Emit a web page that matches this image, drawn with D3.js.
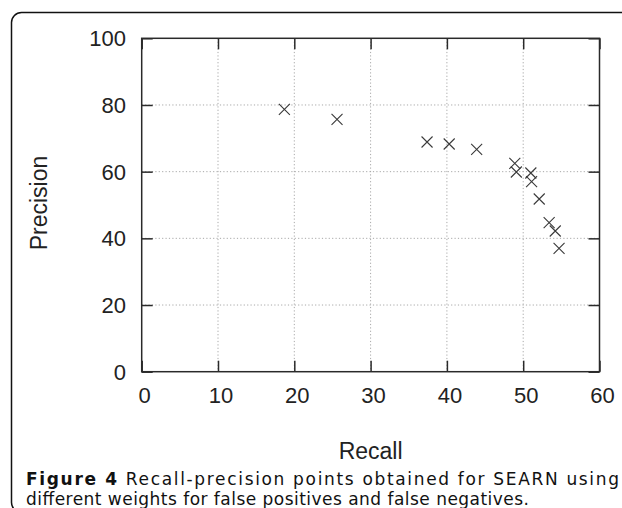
<!DOCTYPE html>
<html>
<head>
<meta charset="utf-8">
<script src="https://cdn.jsdelivr.net/npm/d3@7"></script>
<style>
  html, body { margin: 0; padding: 0; background: #fff; }
  svg { display: block; }
</style>
</head>
<body>
<svg id="chart" width="622" height="508"></svg>
<script>
// Data
const recall    = [18.7, 25.6, 37.4, 40.3, 43.9, 48.9, 49.1, 51.0, 51.1, 52.1, 53.4, 54.2, 54.7];
const precision = [78.7, 75.7, 68.9, 68.3, 66.7, 62.5, 59.9, 59.6, 57.0, 51.8, 44.7, 42.2, 37.0];
const xTicks = [0, 10, 20, 30, 40, 50, 60];
const yTicks = [0, 20, 40, 60, 80, 100];
const xTitle = "Recall";
const yTitle = "Precision";
const captionBold = "Figure 4";
const captionLine1 = " Recall-precision points obtained for SEARN using";
const captionLine2 = "different weights for false positives and false negatives.";

const svg = d3.select("#chart");

// outer frame with rounded corner
svg.append("rect")
  .attr("x", 11.5).attr("y", 12.5)
  .attr("width", 700).attr("height", 500)
  .attr("rx", 10).attr("ry", 10)
  .attr("fill", "none").attr("stroke", "#111").attr("stroke-width", 1.5);

const pL = 141.7, pR = 599.5, pT = 38.3, pB = 371.7;
const x = d3.scaleLinear().domain([0, 60]).range([pL, pR]);
const y = d3.scaleLinear().domain([0, 100]).range([pB, pT]);

const g = svg.append("g");

// grid
g.append("g").selectAll("line").data(xTicks.filter(d => d > 0 && d < 60)).join("line")
  .attr("x1", d => x(d)).attr("x2", d => x(d))
  .attr("y1", pT).attr("y2", pB)
  .attr("stroke", "#a8a8a8").attr("stroke-width", 1)
  .attr("stroke-dasharray", "1.2,2.2");
g.append("g").selectAll("line").data(yTicks.filter(d => d > 0 && d < 100)).join("line")
  .attr("y1", d => y(d)).attr("y2", d => y(d))
  .attr("x1", pL).attr("x2", pR)
  .attr("stroke", "#a8a8a8").attr("stroke-width", 1)
  .attr("stroke-dasharray", "1.2,2.2");

// axes via d3 (inward ticks)
const tickLen = 11;
const axisColor = "#2a2a2a";
function styleAxis(sel) {
  sel.select(".domain").remove();
  sel.selectAll(".tick line").attr("stroke", axisColor).attr("stroke-width", 1.5);
}
g.append("g").attr("transform", `translate(0,${pB})`)
  .call(d3.axisBottom(x).tickValues(xTicks).tickSize(-tickLen).tickFormat(""))
  .call(styleAxis);
g.append("g").attr("transform", `translate(0,${pT})`)
  .call(d3.axisTop(x).tickValues(xTicks).tickSize(-tickLen).tickFormat(""))
  .call(styleAxis);
g.append("g").attr("transform", `translate(${pL},0)`)
  .call(d3.axisLeft(y).tickValues(yTicks).tickSize(-tickLen).tickFormat(""))
  .call(styleAxis);
g.append("g").attr("transform", `translate(${pR},0)`)
  .call(d3.axisRight(y).tickValues(yTicks).tickSize(-tickLen).tickFormat(""))
  .call(styleAxis);

// plot border
g.append("rect")
  .attr("x", pL).attr("y", pT)
  .attr("width", pR - pL).attr("height", pB - pT)
  .attr("fill", "none").attr("stroke", axisColor).attr("stroke-width", 1.5);

// tick labels
const font = "'Liberation Sans', Arial, Helvetica, sans-serif";
g.append("g").selectAll("text").data(xTicks).join("text")
  .attr("x", d => x(d) + 3).attr("y", 403)
  .attr("text-anchor", "middle")
  .attr("font-family", font).attr("font-size", 22).attr("fill", "#222")
  .text(d => d);
g.append("g").selectAll("text").data(yTicks).join("text")
  .attr("x", 126).attr("y", d => y(d)).attr("dy", "0.36em")
  .attr("text-anchor", "end")
  .attr("font-family", font).attr("font-size", 22).attr("fill", "#222")
  .text(d => d);

// axis titles
svg.append("text")
  .attr("x", (pL + pR) / 2).attr("y", 459)
  .attr("text-anchor", "middle")
  .attr("font-family", font).attr("font-size", 23).attr("fill", "#222")
  .text(xTitle);
svg.append("text")
  .attr("transform", `translate(46.5,203) rotate(-90)`)
  .attr("text-anchor", "middle")
  .attr("font-family", font).attr("font-size", 23).attr("fill", "#222")
  .text(yTitle);

// points (x markers)
const pts = recall.map((r, i) => [r, precision[i]]);
const s = 5.5;
g.append("g").selectAll("path").data(pts).join("path")
  .attr("d", d => {
    const cx = x(d[0]), cy = y(d[1]);
    return `M${cx - s},${cy - s}L${cx + s},${cy + s}M${cx - s},${cy + s}L${cx + s},${cy - s}`;
  })
  .attr("stroke", "#3a3a3a").attr("stroke-width", 1.1).attr("fill", "none");

// caption
const capFont = "'DejaVu Sans', Verdana, sans-serif";
const c1 = svg.append("text")
  .attr("x", 26).attr("y", 485)
  .attr("font-family", capFont).attr("font-size", 17).attr("fill", "#111")
  .attr("textLength", 593).attr("lengthAdjust", "spacing");
c1.append("tspan").attr("font-weight", "bold").text(captionBold);
c1.append("tspan").text(captionLine1);
svg.append("text")
  .attr("x", 26).attr("y", 505)
  .attr("font-family", capFont).attr("font-size", 17).attr("fill", "#111")
  .attr("textLength", 503).attr("lengthAdjust", "spacing")
  .text(captionLine2);
</script>
</body>
</html>
